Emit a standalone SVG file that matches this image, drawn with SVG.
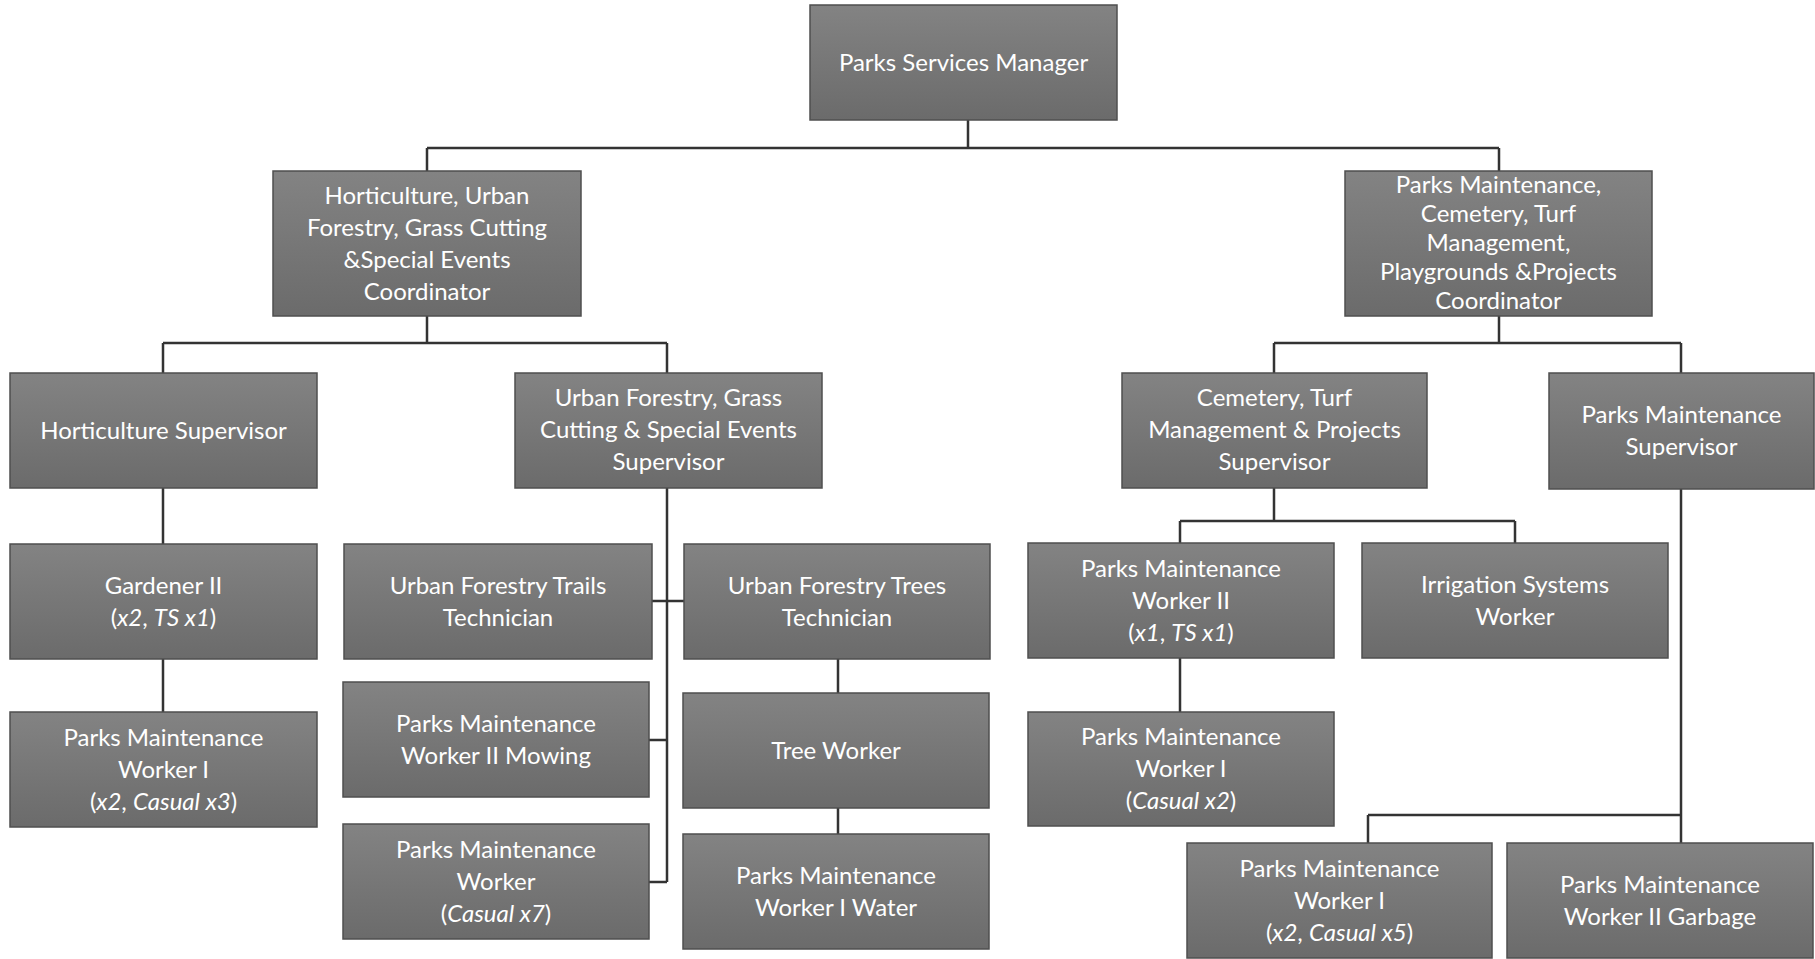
<svg xmlns="http://www.w3.org/2000/svg" width="1815" height="959" viewBox="0 0 1815 959">
  <defs>
    <linearGradient id="boxFill" x1="0" y1="0" x2="0" y2="1">
      <stop offset="0" stop-color="#838383"/>
      <stop offset="1" stop-color="#6b6b6b"/>
    </linearGradient>
    <style>
      .box { fill: url(#boxFill); stroke: #4f4f4f; stroke-width: 1.5; }
      .lbl { fill: #ffffff; font-family: Lato, "Open Sans", "Liberation Sans", sans-serif; font-size: 24px; text-anchor: middle; }
      .it { font-style: italic; }
      .wire { fill: none; stroke: #333333; stroke-width: 2.5; }
    </style>
  </defs>
  <rect width="1815" height="959" fill="#ffffff"/>

  <!-- reporting lines -->
  <g id="connectors" class="wire">
    <path d="M968 120 V148 M427 148 H1499 M427 148 V171 M1499 148 V171"/>
    <path d="M427 316 V343 M163 343 H667 M163 343 V373 M667 343 V373"/>
    <path d="M1499 316 V343 M1274 343 H1681 M1274 343 V373 M1681 343 V373"/>
    <path d="M163 488 V544 M163 659 V712"/>
    <path d="M667 488 V882 M652 601 H684 M649 740 H667 M649 882 H667"/>
    <path d="M838 659 V693 M838 808 V834"/>
    <path d="M1274 488 V521 M1180 521 H1515 M1180 521 V543 M1515 521 V543 M1180 658 V712"/>
    <path d="M1681 489 V843 M1368 815 H1681 M1368 815 V843"/>
  </g>

  <g id="parks-services-manager">
    <rect class="box" x="810" y="5" width="307" height="115"/>
    <text class="lbl" x="963.5" y="71">Parks Services Manager</text>
  </g>

  <g id="horticulture-coordinator">
    <rect class="box" x="273" y="171" width="308" height="145"/>
    <text class="lbl" x="427" y="204">Horticulture, Urban<tspan x="427" dy="32">Forestry, Grass Cutting</tspan><tspan x="427" dy="32">&amp;Special Events</tspan><tspan x="427" dy="32">Coordinator</tspan></text>
  </g>

  <g id="maintenance-coordinator">
    <rect class="box" x="1345" y="171" width="307" height="145"/>
    <text class="lbl" x="1498.5" y="193">Parks Maintenance,<tspan x="1498.5" dy="29">Cemetery, Turf</tspan><tspan x="1498.5" dy="29">Management,</tspan><tspan x="1498.5" dy="29">Playgrounds &amp;Projects</tspan><tspan x="1498.5" dy="29">Coordinator</tspan></text>
  </g>

  <g id="horticulture-supervisor">
    <rect class="box" x="10" y="373" width="307" height="115"/>
    <text class="lbl" x="163.5" y="439">Horticulture Supervisor</text>
  </g>

  <g id="urban-forestry-supervisor">
    <rect class="box" x="515" y="373" width="307" height="115"/>
    <text class="lbl" x="668.5" y="406">Urban Forestry, Grass<tspan x="668.5" dy="32">Cutting &amp; Special Events</tspan><tspan x="668.5" dy="32">Supervisor</tspan></text>
  </g>

  <g id="cemetery-supervisor">
    <rect class="box" x="1122" y="373" width="305" height="115"/>
    <text class="lbl" x="1274.5" y="406">Cemetery, Turf<tspan x="1274.5" dy="32">Management &amp; Projects</tspan><tspan x="1274.5" dy="32">Supervisor</tspan></text>
  </g>

  <g id="parks-maintenance-supervisor">
    <rect class="box" x="1549" y="373" width="265" height="116"/>
    <text class="lbl" x="1681.5" y="423">Parks Maintenance<tspan x="1681.5" dy="32">Supervisor</tspan></text>
  </g>

  <g id="gardener-ii">
    <rect class="box" x="10" y="544" width="307" height="115"/>
    <text class="lbl" x="163.5" y="594">Gardener II<tspan x="163.5" dy="32">(<tspan class="it">x2</tspan>, <tspan class="it">TS x1</tspan>)</tspan></text>
  </g>

  <g id="horticulture-worker-i">
    <rect class="box" x="10" y="712" width="307" height="115"/>
    <text class="lbl" x="163.5" y="746">Parks Maintenance<tspan x="163.5" dy="32">Worker I</tspan><tspan x="163.5" dy="32">(<tspan class="it">x2</tspan>, <tspan class="it">Casual x3</tspan>)</tspan></text>
  </g>

  <g id="trails-technician">
    <rect class="box" x="344" y="544" width="308" height="115"/>
    <text class="lbl" x="498" y="594">Urban Forestry Trails<tspan x="498" dy="32">Technician</tspan></text>
  </g>

  <g id="trees-technician">
    <rect class="box" x="684" y="544" width="306" height="115"/>
    <text class="lbl" x="837" y="594">Urban Forestry Trees<tspan x="837" dy="32">Technician</tspan></text>
  </g>

  <g id="worker-ii-mowing">
    <rect class="box" x="343" y="682" width="306" height="115"/>
    <text class="lbl" x="496" y="732">Parks Maintenance<tspan x="496" dy="32">Worker II Mowing</tspan></text>
  </g>

  <g id="worker-casual">
    <rect class="box" x="343" y="824" width="306" height="115"/>
    <text class="lbl" x="496" y="858">Parks Maintenance<tspan x="496" dy="32">Worker</tspan><tspan x="496" dy="32">(<tspan class="it">Casual x7</tspan>)</tspan></text>
  </g>

  <g id="tree-worker">
    <rect class="box" x="683" y="693" width="306" height="115"/>
    <text class="lbl" x="836" y="759">Tree Worker</text>
  </g>

  <g id="worker-i-water">
    <rect class="box" x="683" y="834" width="306" height="115"/>
    <text class="lbl" x="836" y="884">Parks Maintenance<tspan x="836" dy="32">Worker I Water</tspan></text>
  </g>

  <g id="cemetery-worker-ii">
    <rect class="box" x="1028" y="543" width="306" height="115"/>
    <text class="lbl" x="1181" y="577">Parks Maintenance<tspan x="1181" dy="32">Worker II</tspan><tspan x="1181" dy="32">(<tspan class="it">x1</tspan>, <tspan class="it">TS x1</tspan>)</tspan></text>
  </g>

  <g id="irrigation-worker">
    <rect class="box" x="1362" y="543" width="306" height="115"/>
    <text class="lbl" x="1515" y="593">Irrigation Systems<tspan x="1515" dy="32">Worker</tspan></text>
  </g>

  <g id="cemetery-worker-i">
    <rect class="box" x="1028" y="712" width="306" height="114"/>
    <text class="lbl" x="1181" y="745">Parks Maintenance<tspan x="1181" dy="32">Worker I</tspan><tspan x="1181" dy="32">(<tspan class="it">Casual x2</tspan>)</tspan></text>
  </g>

  <g id="maintenance-worker-i">
    <rect class="box" x="1187" y="843" width="305" height="115"/>
    <text class="lbl" x="1339.5" y="877">Parks Maintenance<tspan x="1339.5" dy="32">Worker I</tspan><tspan x="1339.5" dy="32">(<tspan class="it">x2</tspan>, <tspan class="it">Casual x5</tspan>)</tspan></text>
  </g>

  <g id="worker-ii-garbage">
    <rect class="box" x="1507" y="843" width="306" height="115"/>
    <text class="lbl" x="1660" y="893">Parks Maintenance<tspan x="1660" dy="32">Worker II Garbage</tspan></text>
  </g>
</svg>
